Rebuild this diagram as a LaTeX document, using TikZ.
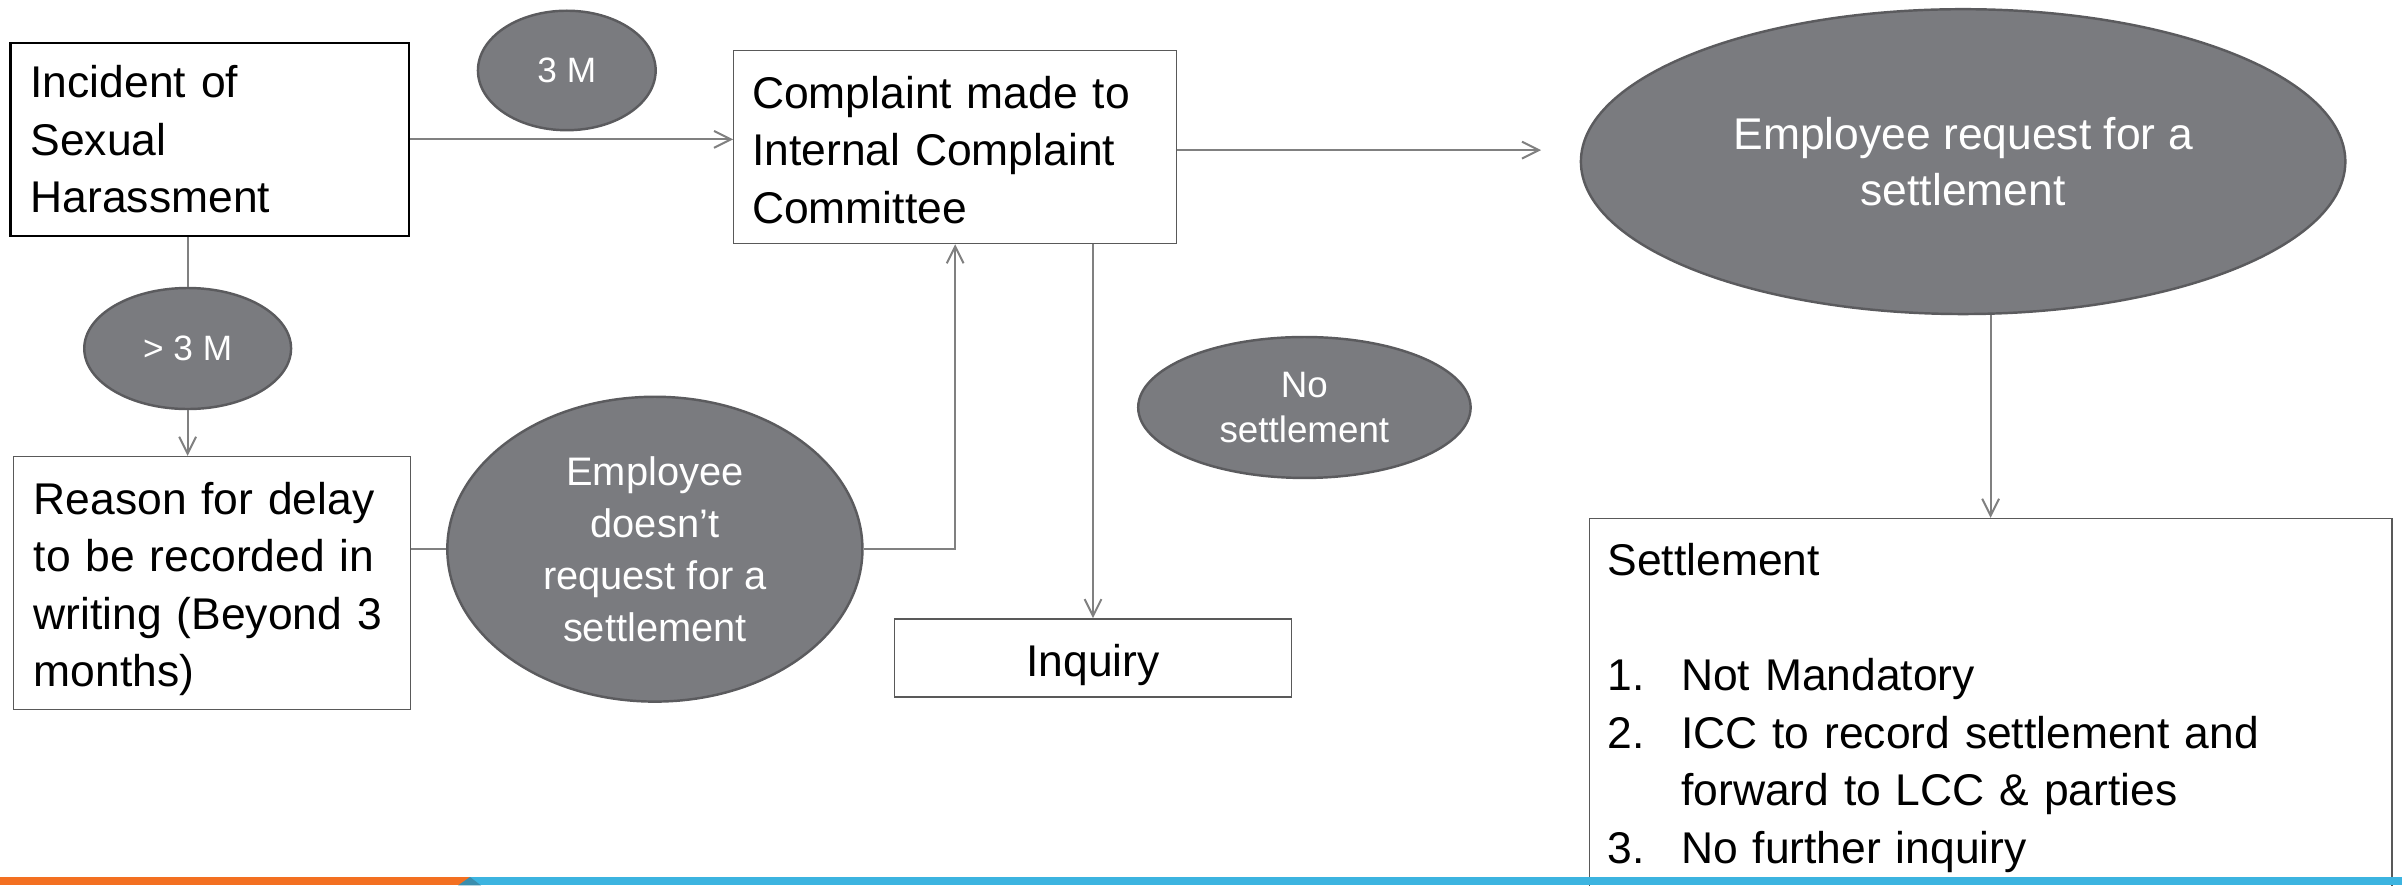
\documentclass[tikz,border=0pt]{standalone}
\usepackage{fontspec}
\setmainfont{Liberation Sans}
\usetikzlibrary{shapes.geometric,arrows.meta,calc}
\definecolor{ellfill}{HTML}{7A7B7F}
\definecolor{elldraw}{HTML}{5B5B5E}
\definecolor{conn}{HTML}{808080}
\definecolor{boxline}{HTML}{595959}
\definecolor{barorange}{HTML}{F37021}
\definecolor{barblue}{HTML}{3CB4E0}
\definecolor{barteal}{HTML}{3A8EAE}
\tikzset{
  boxfont/.style={font=\fontsize{29}{37.5}\selectfont},
  plainbox/.style={draw=boxline, line width=0.9pt, rectangle, boxfont, align=left, inner ysep=0pt, text=black},
  blackbox/.style={plainbox, draw=black, line width=1.8pt},
  oval/.style={ellipse, draw=elldraw, fill=ellfill, line width=1.6pt, text=white, align=center, inner sep=0pt},
  conline/.style={draw=conn, line width=1.3pt},
  conarrow/.style={conline, -{Straight Barb[length=11pt,width=11pt]}}
}
\begin{document}
\begin{tikzpicture}[x=1pt,y=-1pt]
\useasboundingbox (0,0) rectangle (1568,578);
\clip (0,0) rectangle (1568,578);

% boxes
\node[blackbox, minimum width=260pt, minimum height=126pt, text width=234pt, inner xsep=13pt] (incident) at (137,91) {Incident of\\Sexual\\Harassment};
\node[plainbox, minimum width=289pt, minimum height=126pt, text width=265pt, inner xsep=12pt] (complaint) at (623.5,96) {\rule{0pt}{25pt}Complaint made to\\Internal Complaint\\Committee};
\node[plainbox, minimum width=259pt, minimum height=165pt, text width=233pt, inner xsep=13pt] (reason) at (138.5,380.5) {\rule{0pt}{29pt}Reason for delay\\to be recorded in\\writing (Beyond 3\\months)};
\node[plainbox, align=center, minimum width=259pt, minimum height=51pt, inner sep=0pt, text height=27pt, text depth=3pt] (inquiry) at (713.5,429.5) {Inquiry};
\node[plainbox, anchor=north west, text width=500pt, inner xsep=12pt, inner ysep=16.5pt] (settle) at (1037,338) {Settlement\\ \mbox{}\\ \makebox[48pt][l]{1.}Not Mandatory\\ \makebox[48pt][l]{2.}ICC to record settlement and\\ \hspace*{48pt}forward to LCC \& parties\\ \makebox[48pt][l]{3.}No further inquiry};

% ovals
\node[oval, minimum width=116pt, minimum height=78pt, font=\fontsize{23}{28}\selectfont] (three) at (370,46) {3 M};
\node[oval, minimum width=135pt, minimum height=79pt, font=\fontsize{23}{28}\selectfont] (gt3) at (122.5,227.5) {> 3 M};
\node[oval, minimum width=271pt, minimum height=199pt, font=\fontsize{26}{34}\selectfont] (emp) at (427.5,358.5) {Employee\\doesn’t\\request for a\\settlement};
\node[oval, minimum width=217pt, minimum height=92pt, font=\fontsize{24}{29}\selectfont] (nosettle) at (851.5,266) {No\\settlement};
\node[oval, minimum width=499pt, minimum height=199pt, font=\fontsize{29}{36}\selectfont] (req) at (1281.5,105.5) {Employee request for a\\settlement};

\coordinate (reqin) at (1006,98);

% connectors
\draw[conarrow] (incident.east) -- (incident.east -| complaint.west);
\draw[conarrow] (complaint.east |- reqin) -- (reqin);
\draw[conline] (gt3.north |- incident.south) -- (gt3.north);
\draw[conarrow] (gt3.south) -- (gt3.south |- reason.north);
\draw[conline] (reason.east |- emp.west) -- (emp.west);
\draw[conarrow] (emp.east) -| (complaint.south);
\draw[conarrow] (complaint.south -| inquiry.north) -- (inquiry.north);
\draw[conarrow] (req.south -| settle.north) -- (settle.north);

% bottom bar
\fill[barorange] (0,572.5) rectangle (307,578);
\fill[barblue] (307,572.5) rectangle (1568,578);
\fill[barteal] (299,578) -- (306.8,572.5) -- (314,578) -- cycle;
\end{tikzpicture}
\end{document}
